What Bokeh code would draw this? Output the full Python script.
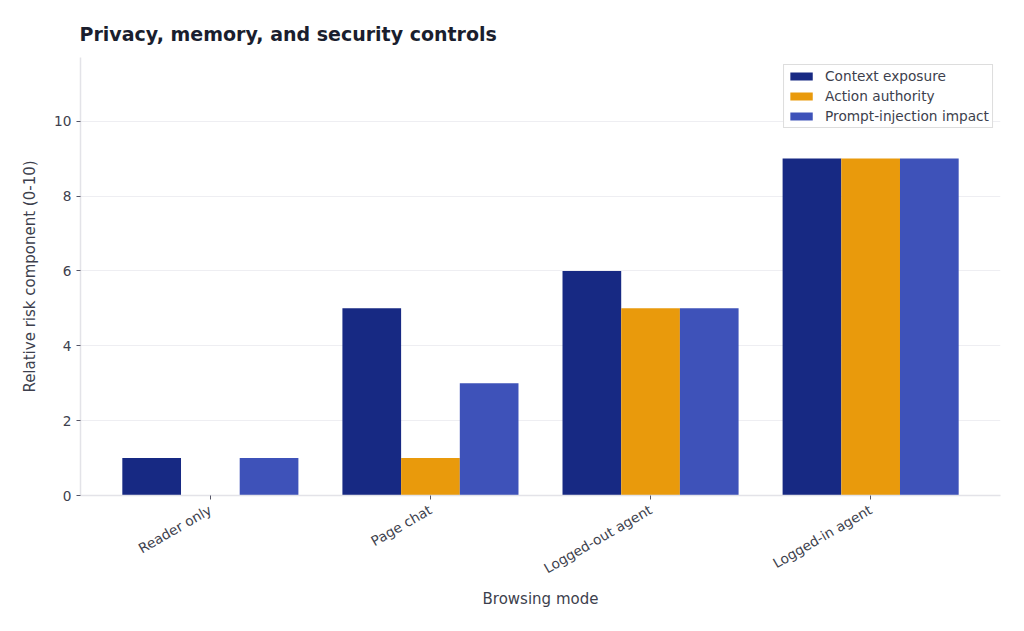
import math
from bokeh.plotting import figure
from bokeh.models import FixedTicker, Range1d, Legend, LegendItem
from bokeh.embed import file_html
from bokeh.resources import INLINE

categories = ["Reader only", "Page chat", "Logged-out agent", "Logged-in agent"]
series_names = ["Context exposure", "Action authority", "Prompt-injection impact"]
context_exposure = [1, 5, 6, 9]
action_authority = [0, 1, 5, 9]
prompt_injection = [1, 3, 5, 9]
colors = ["#172983", "#E99A0C", "#3E52B9"]
y_ticks = [0, 2, 4, 6, 8, 10]

FONT = "DejaVu Sans"
n = len(categories)
xs = list(range(n))
bw = 0.8 / 3

p = figure(width=1024, height=631, output_backend="svg", toolbar_location=None,
           x_range=Range1d(-0.59, n - 1 + 0.59), y_range=Range1d(0, 11.7),
           min_border_left=80, min_border_right=24, min_border_top=57, min_border_bottom=136)

p.title.text = "Privacy, memory, and security controls"
p.title.text_font = FONT
p.title.text_font_size = "19px"
p.title.text_font_style = "bold"
p.title.text_color = "#1a1e2e"
p.title.offset = -1
p.title.standoff = 25

items = []
for i, (vals, name) in enumerate(zip([context_exposure, action_authority, prompt_injection], series_names)):
    off = (i - 1) * bw
    r = p.vbar(x=[x + off for x in xs], top=vals, width=bw,
               fill_color=colors[i], line_color=None)
    items.append(LegendItem(label=name, renderers=[r]))

legend = Legend(items=items, location="top_right")
legend.label_text_font = FONT
legend.label_text_font_size = "13.7px"
legend.label_text_color = "#3d3f4d"
legend.glyph_width = 28
legend.glyph_height = 10
legend.spacing = 4
legend.padding = 3
legend.margin = 7
legend.border_line_color = "#dddddd"
legend.border_line_alpha = 1
legend.background_fill_alpha = 0.9
legend.label_standoff = 10
legend.label_height = 16
p.add_layout(legend)

p.xaxis.ticker = FixedTicker(ticks=xs)
p.xaxis.major_label_overrides = {i: c for i, c in enumerate(categories)}
p.xaxis.major_label_orientation = math.pi / 6
p.xaxis.major_label_standoff = 9
p.yaxis.ticker = FixedTicker(ticks=y_ticks)

for ax in (p.xaxis, p.yaxis):
    ax.axis_line_color = "#e3e3e8"
    ax.axis_line_width = 1.5
    ax.major_tick_line_color = "#555566"
    ax.major_tick_in = 0
    ax.major_tick_out = 4
    ax.minor_tick_line_color = None
    ax.major_label_text_font = FONT
    ax.major_label_text_font_size = "13.7px"
    ax.major_label_text_color = "#3d3f4d"
    ax.axis_label_text_font = FONT
    ax.axis_label_text_font_size = "15px"
    ax.axis_label_text_font_style = "normal"
    ax.axis_label_text_color = "#3d3f4d"

p.xaxis.axis_label = "Browsing mode"
p.yaxis.axis_label = "Relative risk component (0-10)"
p.xaxis.axis_label_standoff = 4
p.yaxis.axis_label_standoff = 12

p.xgrid.grid_line_color = None
p.ygrid.grid_line_color = "#eeeef2"
p.ygrid.ticker = FixedTicker(ticks=y_ticks)
p.outline_line_color = None

open("out.html", "w").write(file_html(p, INLINE))
